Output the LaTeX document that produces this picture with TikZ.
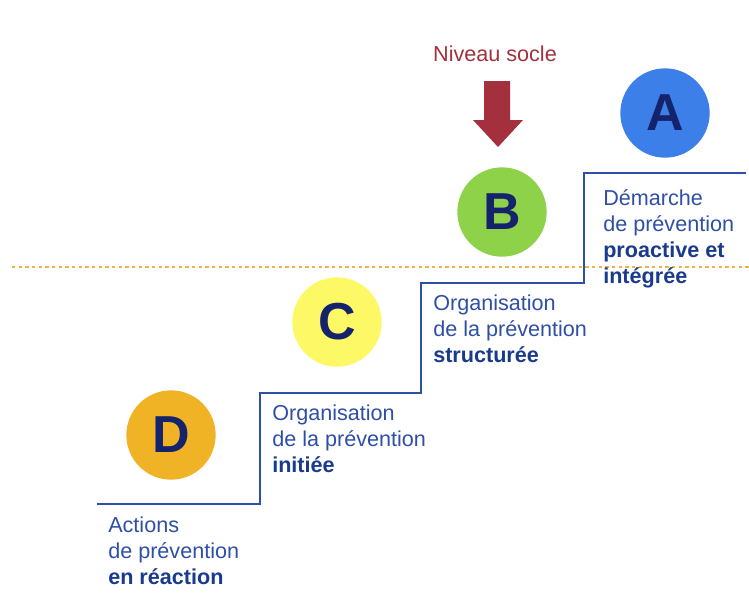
\documentclass[tikz,border=0pt]{standalone}
\usepackage{fontspec}
\setmainfont{Liberation Sans}
\usetikzlibrary{calc}

\definecolor{lvlA}{HTML}{3D7FE8}
\definecolor{lvlB}{HTML}{8ED24A}
\definecolor{lvlC}{HTML}{FCF866}
\definecolor{lvlD}{HTML}{F0B326}
\definecolor{navy}{HTML}{14236B}
\definecolor{stepblue}{HTML}{2E4FA6}
\definecolor{boldblue}{HTML}{1A3A8C}
\definecolor{socle}{HTML}{A3303C}
\definecolor{dashorange}{HTML}{F2B04A}

\begin{document}
\begin{tikzpicture}[x=0.75pt, y=-0.75pt,
    level/.style={circle, fill=#1, minimum size=67pt, inner sep=0pt,
      text=navy, font=\fontsize{39}{39}\selectfont\bfseries},
    label text/.style={anchor=base west, align=left, inner sep=0pt,
      text=stepblue, font=\fontsize{16.2}{19.5}\selectfont}
    ]
    \useasboundingbox (0,0) rectangle (749,593);

    % seuil
    \draw[dashorange, line width=1.2pt, dash pattern=on 2.5pt off 2.5pt] (12,267) -- (749,267);

    % escalier
    \coordinate (s0) at (97,504);
    \coordinate (s1) at (260,504);
    \coordinate (s2) at (260,393);
    \coordinate (s3) at (421,393);
    \coordinate (s4) at (421,283);
    \coordinate (s5) at (584,283);
    \coordinate (s6) at (584,173);
    \coordinate (s7) at (746,173);
    \draw[stepblue, line width=1.8pt] (s0) -- (s1) -- (s2) -- (s3) -- (s4) -- (s5) -- (s6) -- (s7);

    \node[level=lvlA] (a) at (665,113) {A};
    \node[level=lvlB] (b) at (502,212) {B};
    \node[level=lvlC] (c) at (337,322) {C};
    \node[level=lvlD] (d) at (171,435) {D};

    % ancre = ligne de base de la derniere ligne
    \node[label text] (ta) at (603,283) {Démarche\\de prévention\\\textcolor{boldblue}{\bfseries proactive et}\\\textcolor{boldblue}{\bfseries intégrée}};
    \node[label text] (tb) at (433,362) {Organisation\\de la prévention\\\textcolor{boldblue}{\bfseries structurée}};
    \node[label text] (tc) at (272,472) {Organisation\\de la prévention\\\textcolor{boldblue}{\bfseries initiée}};
    \node[label text] (td) at (108,584) {Actions\\de prévention\\\textcolor{boldblue}{\bfseries en réaction}};

    \node[text=socle, font=\fontsize{16.2}{19.5}\selectfont, anchor=base] (socle) at (495,61) {Niveau socle};
    \fill[socle] (484,81) -- (510,81) -- (510,120) -- (523,120) -- (498,147) -- (473,120) -- (484,120) -- cycle;
\end{tikzpicture}
\end{document}
